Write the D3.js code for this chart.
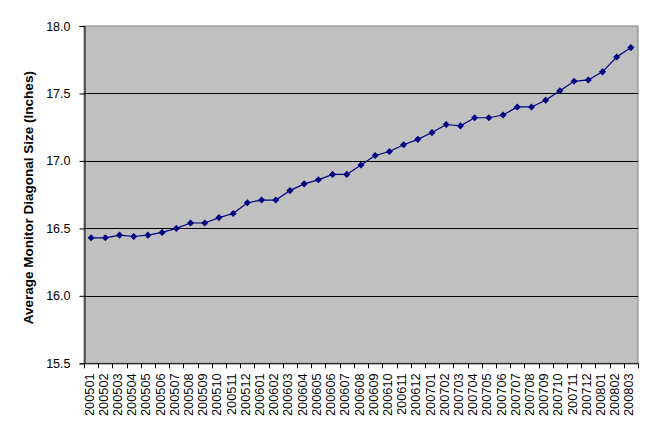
<!DOCTYPE html>
<html><head><meta charset="utf-8">
<script src="https://cdn.jsdelivr.net/npm/d3@7"></script>
<style>body{margin:0;background:#fff;}svg{display:block;}</style>
</head><body>
<svg id="c" width="653" height="432"></svg>
<script>
const months = ["200501","200502","200503","200504","200505","200506","200507","200508","200509","200510","200511","200512",
"200601","200602","200603","200604","200605","200606","200607","200608","200609","200610","200611","200612",
"200701","200702","200703","200704","200705","200706","200707","200708","200709","200710","200711","200712",
"200801","200802","200803"];
const sizes = [16.43,16.43,16.45,16.44,16.45,16.47,16.50,16.54,16.54,16.58,16.61,16.69,
16.71,16.71,16.78,16.83,16.86,16.90,16.90,16.97,17.04,17.07,17.12,17.16,
17.21,17.27,17.26,17.32,17.32,17.34,17.40,17.40,17.45,17.52,17.59,17.60,
17.66,17.77,17.84];
const yTicks = [15.5,16.0,16.5,17.0,17.5,18.0];
const yTitle = "Average Monitor Diagonal Size (Inches)";

const svg = d3.select("#c");
const L = 84, R = 638, T = 26, B = 363.3;
const x = d3.scaleBand().domain(months).range([L, R]);
const y = d3.scaleLinear().domain([15.5, 18.0]).range([B, T]);
const font = "'Liberation Sans', Arial, sans-serif";

svg.append("rect").attr("x", L).attr("y", T).attr("width", R - L).attr("height", B - T)
  .attr("fill", "#c0c0c0").attr("stroke", "#808080").attr("stroke-width", 1);

svg.append("g").selectAll("line").data(yTicks.filter(d => d > 15.5 && d < 18)).join("line")
  .attr("x1", L).attr("x2", R).attr("y1", d => Math.round(y(d)) + 0.5).attr("y2", d => Math.round(y(d)) + 0.5)
  .attr("stroke", "#000").attr("stroke-width", 1);

// y axis
const ya = svg.append("g").attr("transform", `translate(${L + 0.5},0)`)
  .call(d3.axisLeft(y).tickValues(yTicks).tickFormat(d3.format(".1f")).tickSize(5).tickPadding(9));
ya.select(".domain").attr("stroke", "#000");
ya.selectAll("text").attr("font-family", font).attr("font-size", "12.5px").attr("fill", "#000");

// x axis with ticks at category boundaries
const xa = svg.append("g").attr("transform", `translate(0,${B})`);
xa.append("line").attr("x1", L).attr("x2", R).attr("y1", 0.5).attr("y2", 0.5).attr("stroke", "#000");
const bounds = months.map(m => x(m)).concat([R]);
xa.selectAll("line.t").data(bounds).join("line").attr("class", "t")
  .attr("x1", d => Math.round(d) + 0.5).attr("x2", d => Math.round(d) + 0.5).attr("y1", 0).attr("y2", 5)
  .attr("stroke", "#000");
xa.selectAll("text").data(months).join("text")
  .attr("transform", d => `translate(${x(d) + x.bandwidth() / 2 + 2.5},10) rotate(-90)`)
  .attr("text-anchor", "end").attr("font-family", font).attr("font-size", "12.8px").attr("fill", "#000")
  .text(d => d);

// title
svg.append("text").attr("transform", `translate(32.5,${(T + B) / 2 + 3}) rotate(-90)`)
  .attr("text-anchor", "middle").attr("font-family", font).attr("font-weight", "bold")
  .attr("font-size", "13.5px").attr("fill", "#000").text(yTitle);

// line
const cx = (d, i) => x(months[i]) + x.bandwidth() / 2;
svg.append("path").datum(sizes)
  .attr("d", d3.line().x((d, i) => cx(d, i)).y(d => y(d)))
  .attr("fill", "none").attr("stroke", "#000080").attr("stroke-width", 1.2);
svg.append("g").selectAll("path").data(sizes).join("path")
  .attr("d", d3.symbol().type(d3.symbolDiamond2).size(32))
  .attr("transform", (d, i) => `translate(${cx(d, i)},${y(d)})`)
  .attr("fill", "#000080");
</script>
</body></html>
